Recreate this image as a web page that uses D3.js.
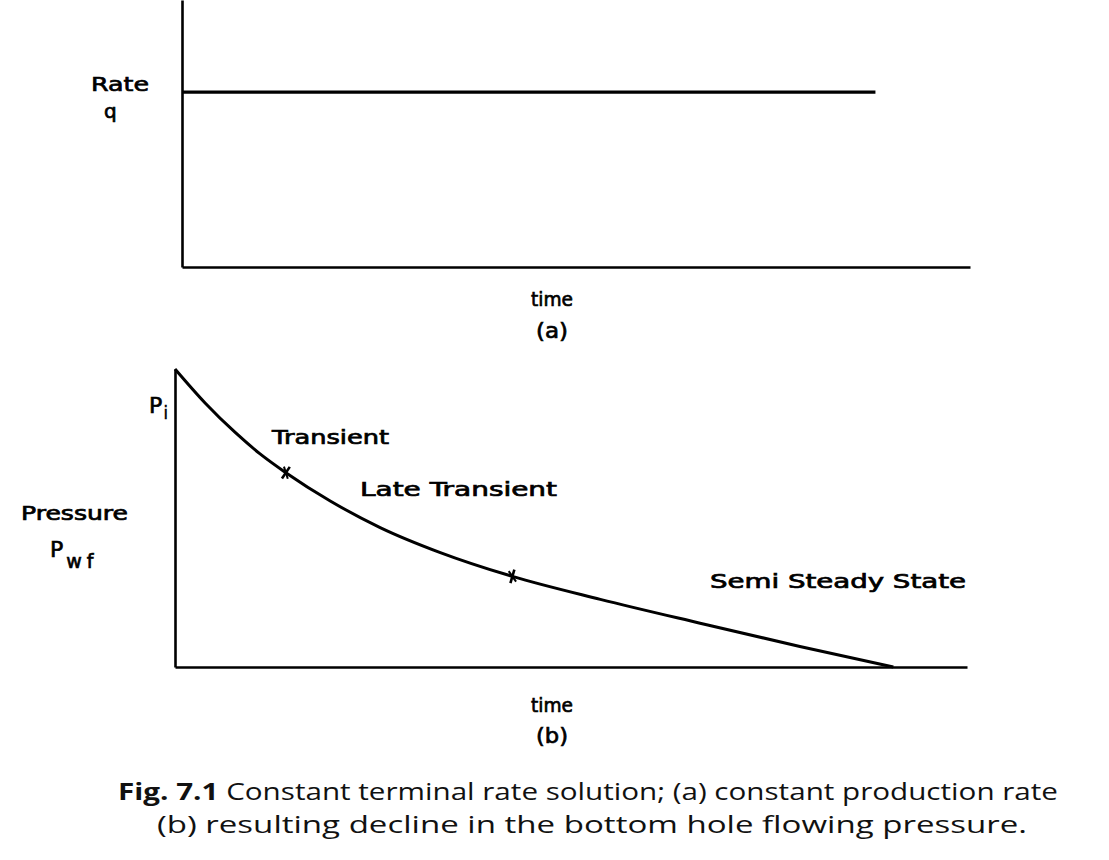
<!DOCTYPE html>
<html>
<head>
<meta charset="utf-8">
<script src="https://cdn.jsdelivr.net/npm/d3@7"></script>
<style>
  html, body { margin: 0; padding: 0; background: #fff; }
  svg { display: block; }
  .lbl { font-family: "DejaVu Sans", sans-serif; fill: #000; stroke: #000; stroke-width: 0.7px; }
  .cap { font-family: "Open Sans", "Noto Sans", sans-serif; fill: #111; }
</style>
</head>
<body>
<svg id="chart" width="1109" height="860"></svg>
<script>
// ---- Data (schematic values) ----
// Panel (a): constant production rate
const rateTime = [0, 88];
const rateValues = [65.5, 65.5];

// Panel (b): bottom hole flowing pressure decline
const pressureTime = [0, 3.8, 7.6, 10.7, 14, 19.6, 25.9, 33.5, 42.6, 53.7, 66.3, 78.9, 90.7];
const pressureValues = [100, 88.6, 78.7, 71.6, 65.2, 55.7, 46.8, 38.4, 30.4, 22.7, 14.7, 6.9, 0];

// Regime boundary markers (times on the pressure curve)
const markerTimes = [14, 42.6];

// Text
const regimeLabels = ["Transient", "Late Transient", "Semi Steady State"];
const captionLines = [
  ["Fig. 7.1", " Constant terminal rate solution; (a) constant production rate"],
  ["", "(b) resulting decline in the bottom hole flowing pressure."]
];

// ---- Drawing ----
const svg = d3.select("#chart");

// Panel (a)
const xA = d3.scaleLinear().domain([0, 100]).range([182, 970]);
const yA = d3.scaleLinear().domain([0, 100]).range([267, 0]);

const gA = svg.append("g");
gA.append("g")
  .attr("transform", `translate(0,${yA(0)})`)
  .call(d3.axisBottom(xA).tickValues([]).tickSizeOuter(0))
  .call(g => g.select(".domain").attr("stroke", "#000").attr("stroke-width", 2.6));
gA.append("g")
  .attr("transform", `translate(${xA(0)},0)`)
  .call(d3.axisLeft(yA).tickValues([]).tickSizeOuter(0))
  .call(g => g.select(".domain").attr("stroke", "#000").attr("stroke-width", 2.6));

gA.append("path")
  .datum(rateTime.map((t, i) => [t, rateValues[i]]))
  .attr("fill", "none").attr("stroke", "#000").attr("stroke-width", 3.2)
  .attr("d", d3.line().x(d => xA(d[0])).y(d => yA(d[1])));

// Panel (b)
const xB = d3.scaleLinear().domain([0, 100]).range([175, 967]);
const yB = d3.scaleLinear().domain([0, 100]).range([667, 369]);

const gB = svg.append("g");
gB.append("g")
  .attr("transform", `translate(0,${yB(0)})`)
  .call(d3.axisBottom(xB).tickValues([]).tickSizeOuter(0))
  .call(g => g.select(".domain").attr("stroke", "#000").attr("stroke-width", 2.6));
gB.append("g")
  .attr("transform", `translate(${xB(0)},0)`)
  .call(d3.axisLeft(yB).tickValues([]).tickSizeOuter(0))
  .call(g => g.select(".domain").attr("stroke", "#000").attr("stroke-width", 2.6));

const pData = pressureTime.map((t, i) => [t, pressureValues[i]]);
gB.append("path")
  .datum(pData)
  .attr("fill", "none").attr("stroke", "#000").attr("stroke-width", 3)
  .attr("d", d3.line().curve(d3.curveMonotoneX).x(d => xB(d[0])).y(d => yB(d[1])));

// markers: short "x" ticks crossing the curve
markerTimes.forEach(t => {
  const i = pressureTime.indexOf(t);
  const x0 = xB(pressureTime[i - 1]), y0 = yB(pressureValues[i - 1]);
  const x1 = xB(pressureTime[i + 1]), y1 = yB(pressureValues[i + 1]);
  const cx = xB(t), cy = yB(pressureValues[i]);
  let dx = x1 - x0, dy = y1 - y0;
  const len = Math.hypot(dx, dy); dx /= len; dy /= len;
  const nx = -dy, ny = dx, L = 7;
  gB.append("line")
    .attr("x1", cx - nx * L).attr("y1", cy - ny * L)
    .attr("x2", cx + nx * L).attr("y2", cy + ny * L)
    .attr("stroke", "#000").attr("stroke-width", 2.6);
  gB.append("line")
    .attr("x1", cx - dx * 5 - nx * 4).attr("y1", cy - dy * 5 - ny * 4)
    .attr("x2", cx + dx * 5 + nx * 4).attr("y2", cy + dy * 5 + ny * 4)
    .attr("stroke", "#000").attr("stroke-width", 2);
});

// ---- Labels ----
function label(x, y, txt, size, anchor, width) {
  const t = svg.append("text").attr("class", "lbl")
    .attr("x", x).attr("y", y)
    .attr("font-size", size)
    .attr("text-anchor", anchor || "start")
    .text(txt);
  if (width) t.attr("textLength", width).attr("lengthAdjust", "spacingAndGlyphs");
  return t;
}

label(91, 91, "Rate", 20, "start", 58);
label(104, 118, "q", 20, "start");
label(552, 306, "time", 20, "middle", 42);
label(552, 338, "(a)", 21, "middle", 32);

// Pi
const pi = svg.append("text").attr("class", "lbl").attr("x", 149).attr("y", 413).attr("font-size", 22);
pi.append("tspan").text("P");
pi.append("tspan").attr("dy", 6).attr("dx", 1).attr("font-size", 18).attr("stroke-width", 0.3).text("i");

label(272, 444, regimeLabels[0], 19, "start", 117);
label(360, 496, regimeLabels[1], 19, "start", 197);
label(21, 520, "Pressure", 19, "start", 107);

const pwf = svg.append("text").attr("class", "lbl").attr("x", 50).attr("y", 557).attr("font-size", 22);
pwf.append("tspan").text("P");
pwf.append("tspan").attr("dy", 11).attr("dx", 3).attr("font-size", 19).attr("letter-spacing", 5).text("wf");

label(710, 588, regimeLabels[2], 19, "start", 256);
label(552, 712, "time", 20, "middle", 42);
label(552, 743, "(b)", 21, "middle", 32);

// Caption
const c1 = svg.append("text").attr("class", "cap")
  .attr("x", 118).attr("y", 800).attr("font-size", 24)
  .attr("textLength", 940).attr("lengthAdjust", "spacingAndGlyphs");
c1.append("tspan").attr("font-weight", "bold").text(captionLines[0][0]);
c1.append("tspan").text(captionLines[0][1]);
svg.append("text").attr("class", "cap")
  .attr("x", 157).attr("y", 833).attr("font-size", 24)
  .attr("textLength", 870).attr("lengthAdjust", "spacingAndGlyphs")
  .text(captionLines[1][1]);
</script>
</body>
</html>
